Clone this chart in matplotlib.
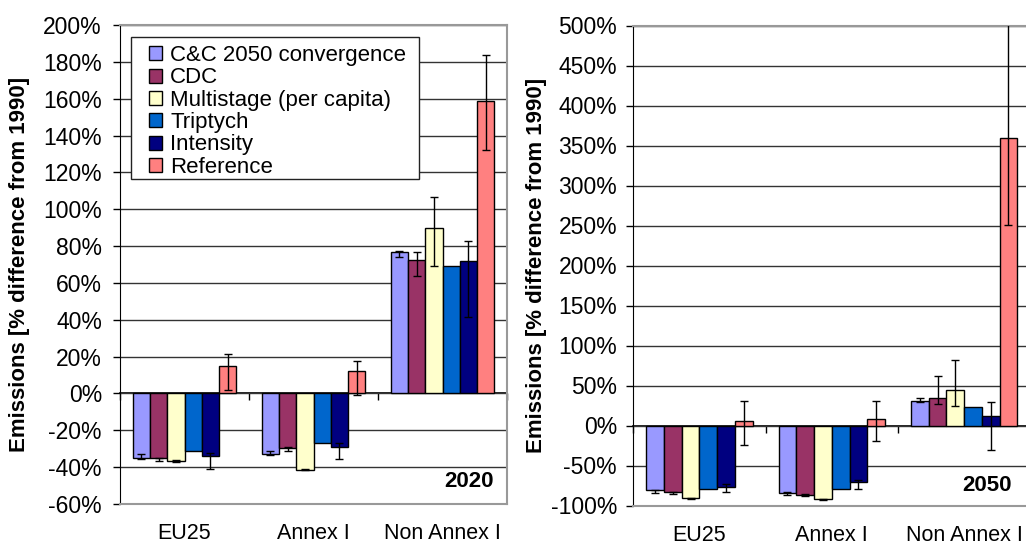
import matplotlib
matplotlib.use("Agg")
import matplotlib.pyplot as plt
import numpy as np
from matplotlib.patches import Rectangle

plt.rcParams['font.family'] = ['Liberation Sans', 'DejaVu Sans']

categories = ["EU25", "Annex I", "Non Annex I"]
labels = ["C&C 2050 convergence", "CDC", "Multistage (per capita)", "Triptych", "Intensity", "Reference"]
colors = ['#9999FF', '#993366', '#FFFFCC', '#0066CC', '#000080', '#FF8080']

###### 2020
cc_2020 = [-34.8, -32.9, 76.6]
cdc_2020 = [-35.2, -29.6, 72.3]
multi_2020 = [-36.7, -41.4, 89.6]
trip_2020 = [-31.1, -26.9, 69.1]
int_2020 = [-34.1, -29.0, 71.9]
ref_2020 = [15.1, 12.2, 158.7]

# error ranges (low, high)
cc_2020_lo = [-35.5, -33.6, 74.0]
cc_2020_hi = [-32.6, -31.1, 77.2]
cdc_2020_lo = [-36.7, -31.1, 63.6]
cdc_2020_hi = [-34.8, -29.2, 76.6]
multi_2020_lo = [-37.3, -41.8, 69.1]
multi_2020_hi = [-36.3, -40.9, 106.7]
int_2020_lo = [-40.9, -35.8, 41.4]
int_2020_hi = [-32.2, -26.9, 83.0]
ref_2020_lo = [1.9, -0.9, 132.0]
ref_2020_hi = [21.6, 17.5, 183.5]

###### 2050
cc_2050 = [-81.1, -84.5, 30.8]
cdc_2050 = [-83.7, -86.7, 33.8]
multi_2050 = [-91.0, -92.4, 44.7]
trip_2050 = [-78.9, -79.8, 23.0]
int_2050 = [-76.7, -71.1, 12.1]
ref_2050 = [5.2, 8.2, 359.0]

cc_2050_lo = [-84.5, -86.7, 29.5]
cc_2050_hi = [-80.2, -83.2, 34.7]
cdc_2050_lo = [-85.0, -88.0, 27.3]
cdc_2050_hi = [-82.8, -85.4, 62.0]
multi_2050_lo = [-91.9, -93.2, 23.8]
multi_2050_hi = [-90.2, -91.6, 81.5]
int_2050_lo = [-83.2, -79.8, -31.2]
int_2050_hi = [-73.7, -68.1, 29.5]
ref_2050_lo = [-23.8, -19.5, 250.6]
ref_2050_hi = [30.8, 30.8, 504.0]

panels = [
    dict(vals=[cc_2020, cdc_2020, multi_2020, trip_2020, int_2020, ref_2020],
         lo=[cc_2020_lo, cdc_2020_lo, multi_2020_lo, None, int_2020_lo, ref_2020_lo],
         hi=[cc_2020_hi, cdc_2020_hi, multi_2020_hi, None, int_2020_hi, ref_2020_hi],
         ylim=(-60, 200), step=20, year="2020",
         rect=[120/1026, 1-504/544, 387/1026, 479/544],
         labx=-0.2326, yearpos=(0.9646, 0.036), legend=True, ypad=8),
    dict(vals=[cc_2050, cdc_2050, multi_2050, trip_2050, int_2050, ref_2050],
         lo=[cc_2050_lo, cdc_2050_lo, multi_2050_lo, None, int_2050_lo, ref_2050_lo],
         hi=[cc_2050_hi, cdc_2050_hi, multi_2050_hi, None, int_2050_hi, ref_2050_hi],
         ylim=(-100, 500), step=50, year="2050",
         rect=[633.3/1026, 1-505.5/544, 397/1026, 480/544],
         labx=-0.218, yearpos=(0.953, 0.031), legend=False, ypad=6.7),
]

x = np.arange(len(categories))
width = 0.134

fig = plt.figure(figsize=(10.26, 5.44), dpi=100)

for p in panels:
    ax = fig.add_axes(p['rect'])
    for i in range(len(labels)):
        v = np.array(p['vals'][i])
        pos = x + (i - 2.5) * width
        ax.bar(pos, v, width, color=colors[i], edgecolor='black', lw=1, label=labels[i], zorder=2)
        if p['lo'][i] is not None:
            err = [v - np.array(p['lo'][i]), np.array(p['hi'][i]) - v]
            ax.errorbar(pos, v, yerr=err, fmt='none', ecolor='black', elinewidth=1,
                        capsize=3, capthick=1, zorder=3)

    ymin, ymax = p['ylim']
    ticks = np.arange(ymin, ymax + 1, p['step'])
    ax.set_ylim(ymin, ymax)
    ax.set_xlim(-0.5, 2.5)
    ax.set_yticks(ticks)
    ax.set_yticklabels(['%d%%' % t for t in ticks])
    ax.set_xticks(x)
    ax.set_xticklabels(categories)
    ax.tick_params(axis='x', length=0, pad=14, labelsize=15.5)
    ax.tick_params(axis='y', direction='out', length=5, width=1, pad=p['ypad'], labelsize=16.5)

    ax.set_axisbelow(True)
    ax.yaxis.grid(True, color='#333333', lw=1)
    for s in ['top', 'right', 'bottom']:
        ax.spines[s].set_color('#999999')
        ax.spines[s].set_linewidth(1.5)
    ax.spines['left'].set_color('black')

    # zero line with group separators
    zero = (0 - ymin) / (ymax - ymin)
    sec = ax.secondary_xaxis(zero)
    sec.set_xticks([-0.5, 0.5, 1.5, 2.5])
    sec.set_xticklabels([])
    sec.tick_params(direction='out', length=5, width=1, color='black')
    sec.spines['bottom'].set_color('black')
    sec.spines['bottom'].set_linewidth(1.2)

    ax.set_ylabel('Emissions [% difference from 1990]', fontsize=16, fontweight='bold')
    ax.yaxis.set_label_coords(p['labx'], 0.5)

    ax.text(p['yearpos'][0], p['yearpos'][1], p['year'], transform=ax.transAxes,
            ha='right', va='baseline', fontsize=16, fontweight='bold')

    if p['legend']:
        box = Rectangle((0.0284, 0.6779), 0.7442, 0.2964, transform=ax.transAxes,
                        facecolor='white', edgecolor='#222222', lw=1, zorder=4)
        ax.add_patch(box)
        leg = ax.legend(loc='upper left', bbox_to_anchor=(0.075, 0.958), borderaxespad=0,
                        frameon=False, fontsize=16, labelspacing=0.06, handlelength=0.6,
                        handleheight=0.6, handletextpad=0.35, borderpad=0)
        leg.set_zorder(5)

fig.savefig("out.png", dpi=100)
